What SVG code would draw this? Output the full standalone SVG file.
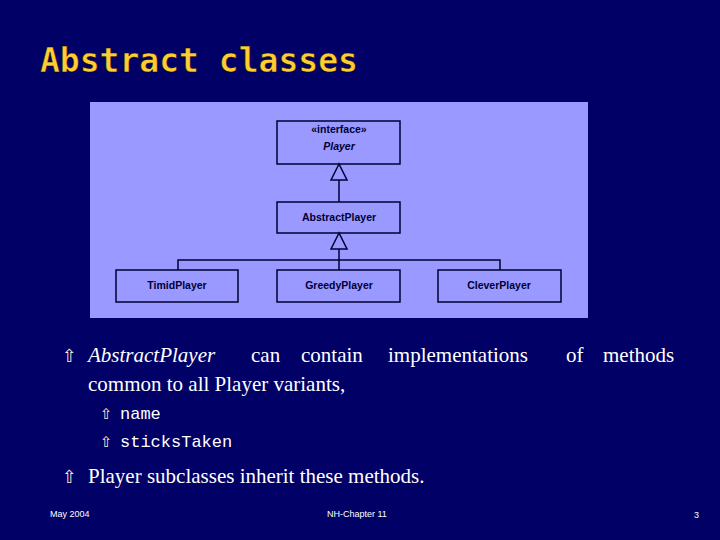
<svg xmlns="http://www.w3.org/2000/svg" width="720" height="540" viewBox="0 0 720 540">
<style>
.box{fill:none;stroke:#000033;stroke-width:1.5}
.lbl{font-family:"Liberation Sans",Arial,sans-serif;font-size:10.5px;font-weight:bold;fill:#000033;text-anchor:middle}
.ln{stroke:#000033;stroke-width:1.5;fill:none}
.tri{fill:#9999ff;stroke:#000033;stroke-width:1.5}
.body{font-family:"Liberation Serif","Times New Roman",serif;font-size:21px;fill:#ffffff}
.mono{font-family:"Liberation Mono","Courier New",monospace;font-size:17px;fill:#ffffff}
.bul{font-family:"DejaVu Sans",sans-serif;fill:#ffe8d8}
.foot{font-family:"Liberation Sans",Arial,sans-serif;font-size:9px;fill:#ffffff}
</style>
<rect width="720" height="540" fill="#000066"/>
<text x="40" y="72" font-family="'DejaVu Sans Mono','Liberation Mono',monospace" font-size="33" font-weight="bold" fill="#ffcc33" stroke="#000000" stroke-width="0.5">Abstract classes</text>
<rect x="90" y="102" width="498" height="216" fill="#9999ff"/>
<g id="connectors">
<line class="ln" x1="339" y1="180" x2="339" y2="202"/>
<polygon class="tri" points="339,164 331,180 347,180"/>
<line class="ln" x1="339" y1="249" x2="339" y2="270"/>
<polyline class="ln" points="178,270 178,260 500,260 500,270"/>
<polygon class="tri" points="339,233 331,249 347,249"/>
</g>
<g id="player"><rect class="box" x="277" y="121" width="123" height="43"/>
<text class="lbl" x="339" y="133" font-size="10">«interface»</text>
<text class="lbl" x="339" y="150" font-style="italic">Player</text></g>
<g id="abstract"><rect class="box" x="277" y="202" width="123" height="31"/><text class="lbl" x="339" y="221">AbstractPlayer</text></g>
<g id="timid"><rect class="box" x="116" y="270" width="122" height="32"/><text class="lbl" x="177" y="289">TimidPlayer</text></g>
<g id="greedy"><rect class="box" x="277" y="270" width="123" height="32"/><text class="lbl" x="339" y="289">GreedyPlayer</text></g>
<g id="clever"><rect class="box" x="438" y="270" width="123" height="32"/><text class="lbl" x="499" y="289">CleverPlayer</text></g>
<text class="bul" x="62" y="362" font-size="18">⇧</text>
<text class="body" x="88" y="362"><tspan font-style="italic">AbstractPlayer</tspan></text>
<text class="body" x="251" y="362">can</text>
<text class="body" x="301" y="362">contain</text>
<text class="body" x="388" y="362">implementations</text>
<text class="body" x="566" y="362">of</text>
<text class="body" x="603" y="362">methods</text>
<text class="body" x="88" y="391">common to all Player variants,</text>
<text class="bul" x="100" y="419" font-size="15">⇧</text>
<text class="mono" x="120" y="419">name</text>
<text class="bul" x="100" y="447" font-size="15">⇧</text>
<text class="mono" x="120" y="447">sticksTaken</text>
<text class="bul" x="62" y="483" font-size="18">⇧</text>
<text class="body" x="88" y="483">Player subclasses inherit these methods.</text>
<text class="foot" x="50" y="517">May 2004</text>
<text class="foot" x="327" y="517">NH-Chapter 11</text>
<text class="foot" x="694" y="518">3</text>
</svg>
